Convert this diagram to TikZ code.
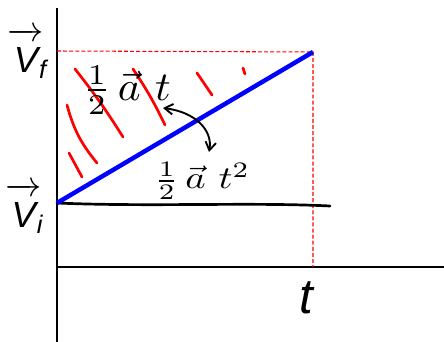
\documentclass[tikz,border=0pt]{standalone}
\usepackage{amsmath}
\usepackage{fontspec}
\setmainfont{Liberation Sans}
\usetikzlibrary{arrows.meta}
\definecolor{SlopeBlue}{HTML}{0000FF}
\definecolor{HatchRed}{HTML}{FF0000}
\definecolor{GuideRed}{HTML}{FF0000}

\begin{document}
\begin{tikzpicture}[x=0.03cm,y=-0.03cm]
  \useasboundingbox (0,0) rectangle (444,342);
  \coordinate (O) at (57,267);
  \coordinate (vi) at (57,203);
  \coordinate (vf) at (313,52);
  \coordinate (tf) at (313,267);
  \draw[line width=1.3pt] (57,342) -- (57,8);
  \draw[line width=1.3pt] (O) -- (444,267);
  \draw[GuideRed, line width=0.9pt, dash pattern=on 3.4pt off 1.8pt] (57,51) -- (vf) -- (tf);
  \foreach \xa/\ya/\xb/\yb/\bnd in {75/69/123/137/3, 67/105/97/163/-12, 69/153/82/177/0, 133/69/165/125/4, 197/73/212/95/0, 243/68/245/74/0}{
    \draw[HatchRed, line width=2.3pt, line cap=round] (\xa,\ya) to[bend left=\bnd] (\xb,\yb);
  }
  \draw[line width=2.3pt, line cap=round] (vi) .. controls (150,207) and (250,202) .. (330,206);
  \draw[SlopeBlue, line width=3.8pt] (vi) -- (vf);
  \node (vfl) at (28,53) {\scalebox{3.1}{$\overrightarrow{\rule{0pt}{8.6pt}\text{\itshape V}}_{\!\text{\itshape f}}$}};
  \node (vil) at (25,208) {\scalebox{3.1}{$\overrightarrow{\rule{0pt}{8.6pt}\text{\itshape V}}_{\!\text{\itshape i}}$}};
  \node (tl) at (306,298) {\fontsize{42}{46}\selectfont\itshape t};
  \node (area) at (127,90) {\scalebox{3.7}[3.5]{$\frac{1}{2}\,\vec{a}\,\,t$}};
  \node (dist) at (202,181) {\scalebox{3.3}[2.7]{$\frac{1}{2}\,\vec{a}\,\,t^2$}};
  \coordinate (p) at (163,108);
  \coordinate (q) at (209,152);
  \draw[{Straight Barb[length=7pt,width=9pt]}-{Straight Barb[length=7pt,width=9pt]}, line width=1.6pt] (p) .. controls (195,112) and (213,130) .. (q);
\end{tikzpicture}
\end{document}
